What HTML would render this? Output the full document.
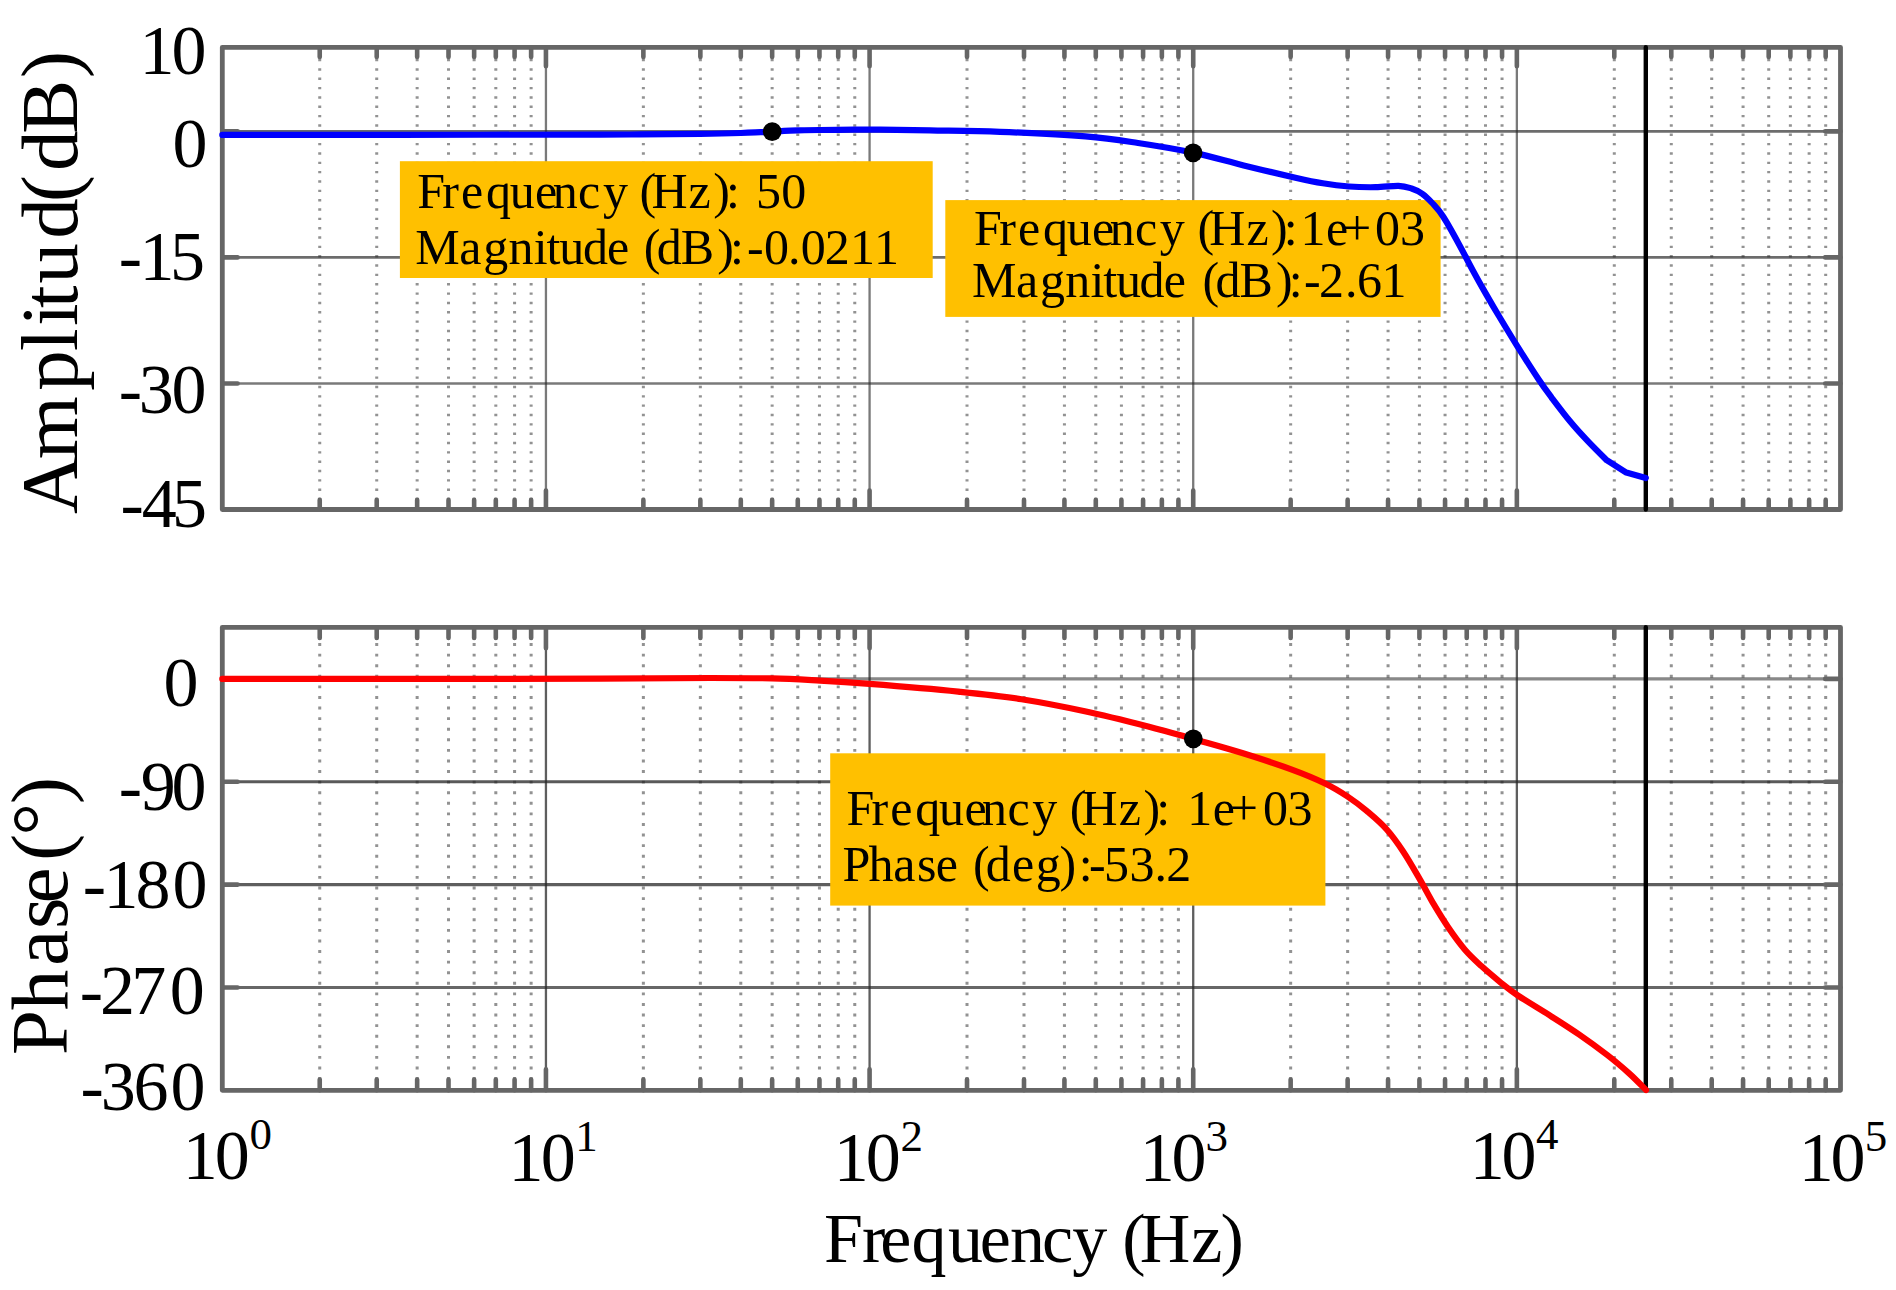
<!DOCTYPE html><html><head><meta charset="utf-8"><title>Bode plot</title><style>html,body{margin:0;padding:0;background:#fff}svg{display:block}text{font-family:"Liberation Serif",serif;fill:#000;font-kerning:none;white-space:pre}</style></head><body>
<svg xmlns="http://www.w3.org/2000/svg" width="<function W at 0x7fedd0887060>" height="1290" viewBox="0 0 <function W at 0x7fedd0887060> 1290">
<rect width="<function W at 0x7fedd0887060>" height="1290" fill="#fff"/>
<path d="M319.73 49.55V509.5M376.72 49.55V509.5M417.15 49.55V509.5M448.51 49.55V509.5M474.14 49.55V509.5M495.81 49.55V509.5M514.58 49.55V509.5M531.13 49.55V509.5M643.37 49.55V509.5M700.36 49.55V509.5M740.79 49.55V509.5M772.15 49.55V509.5M797.78 49.55V509.5M819.45 49.55V509.5M838.22 49.55V509.5M854.77 49.55V509.5M967.01 49.55V509.5M1024.00 49.55V509.5M1064.43 49.55V509.5M1095.79 49.55V509.5M1121.42 49.55V509.5M1143.09 49.55V509.5M1161.86 49.55V509.5M1178.41 49.55V509.5M1290.65 49.55V509.5M1347.64 49.55V509.5M1388.07 49.55V509.5M1419.43 49.55V509.5M1445.06 49.55V509.5M1466.73 49.55V509.5M1485.50 49.55V509.5M1502.05 49.55V509.5M1614.29 49.55V509.5M1671.28 49.55V509.5M1711.71 49.55V509.5M1743.07 49.55V509.5M1768.70 49.55V509.5M1790.37 49.55V509.5M1809.14 49.55V509.5M1825.69 49.55V509.5" stroke="rgba(38,38,38,0.50)" stroke-width="3" stroke-dasharray="2.4 6.940" fill="none"/>
<path d="M545.94 47.3V509.5M869.58 47.3V509.5M1193.22 47.3V509.5M1516.86 47.3V509.5" stroke="rgba(38,38,38,0.62)" stroke-width="2.3" fill="none"/>
<path d="M222.3 131.34H1840.5" stroke="rgba(38,38,38,0.68)" stroke-width="2.6" fill="none"/>
<path d="M222.3 257.39H1840.5" stroke="rgba(38,38,38,0.68)" stroke-width="2.6" fill="none"/>
<path d="M222.3 383.45H1840.5" stroke="rgba(38,38,38,0.62)" stroke-width="2.6" fill="none"/>
<path d="M319.73 47.3v9.6M319.73 509.5v-9.6M376.72 47.3v9.6M376.72 509.5v-9.6M417.15 47.3v9.6M417.15 509.5v-9.6M448.51 47.3v9.6M448.51 509.5v-9.6M474.14 47.3v9.6M474.14 509.5v-9.6M495.81 47.3v9.6M495.81 509.5v-9.6M514.58 47.3v9.6M514.58 509.5v-9.6M531.13 47.3v9.6M531.13 509.5v-9.6M643.37 47.3v9.6M643.37 509.5v-9.6M700.36 47.3v9.6M700.36 509.5v-9.6M740.79 47.3v9.6M740.79 509.5v-9.6M772.15 47.3v9.6M772.15 509.5v-9.6M797.78 47.3v9.6M797.78 509.5v-9.6M819.45 47.3v9.6M819.45 509.5v-9.6M838.22 47.3v9.6M838.22 509.5v-9.6M854.77 47.3v9.6M854.77 509.5v-9.6M967.01 47.3v9.6M967.01 509.5v-9.6M1024.00 47.3v9.6M1024.00 509.5v-9.6M1064.43 47.3v9.6M1064.43 509.5v-9.6M1095.79 47.3v9.6M1095.79 509.5v-9.6M1121.42 47.3v9.6M1121.42 509.5v-9.6M1143.09 47.3v9.6M1143.09 509.5v-9.6M1161.86 47.3v9.6M1161.86 509.5v-9.6M1178.41 47.3v9.6M1178.41 509.5v-9.6M1290.65 47.3v9.6M1290.65 509.5v-9.6M1347.64 47.3v9.6M1347.64 509.5v-9.6M1388.07 47.3v9.6M1388.07 509.5v-9.6M1419.43 47.3v9.6M1419.43 509.5v-9.6M1445.06 47.3v9.6M1445.06 509.5v-9.6M1466.73 47.3v9.6M1466.73 509.5v-9.6M1485.50 47.3v9.6M1485.50 509.5v-9.6M1502.05 47.3v9.6M1502.05 509.5v-9.6M1614.29 47.3v9.6M1614.29 509.5v-9.6M1671.28 47.3v9.6M1671.28 509.5v-9.6M1711.71 47.3v9.6M1711.71 509.5v-9.6M1743.07 47.3v9.6M1743.07 509.5v-9.6M1768.70 47.3v9.6M1768.70 509.5v-9.6M1790.37 47.3v9.6M1790.37 509.5v-9.6M1809.14 47.3v9.6M1809.14 509.5v-9.6M1825.69 47.3v9.6M1825.69 509.5v-9.6M545.94 47.3v18.9M545.94 509.5v-18.9M869.58 47.3v18.9M869.58 509.5v-18.9M1193.22 47.3v18.9M1193.22 509.5v-18.9M1516.86 47.3v18.9M1516.86 509.5v-18.9M222.3 131.34h15.3M1840.5 131.34h-15.3M222.3 257.39h15.3M1840.5 257.39h-15.3M222.3 383.45h15.3M1840.5 383.45h-15.3" stroke="#666666" stroke-width="4.6" stroke-linecap="round" fill="none"/>
<rect x="222.3" y="47.3" width="1618.2" height="462.2" fill="none" stroke="#666666" stroke-width="4.8" stroke-linejoin="round"/>
<path d="M319.73 632.47V1090.3M376.72 632.47V1090.3M417.15 632.47V1090.3M448.51 632.47V1090.3M474.14 632.47V1090.3M495.81 632.47V1090.3M514.58 632.47V1090.3M531.13 632.47V1090.3M643.37 632.47V1090.3M700.36 632.47V1090.3M740.79 632.47V1090.3M772.15 632.47V1090.3M797.78 632.47V1090.3M819.45 632.47V1090.3M838.22 632.47V1090.3M854.77 632.47V1090.3M967.01 632.47V1090.3M1024.00 632.47V1090.3M1064.43 632.47V1090.3M1095.79 632.47V1090.3M1121.42 632.47V1090.3M1143.09 632.47V1090.3M1161.86 632.47V1090.3M1178.41 632.47V1090.3M1290.65 632.47V1090.3M1347.64 632.47V1090.3M1388.07 632.47V1090.3M1419.43 632.47V1090.3M1445.06 632.47V1090.3M1466.73 632.47V1090.3M1485.50 632.47V1090.3M1502.05 632.47V1090.3M1614.29 632.47V1090.3M1671.28 632.47V1090.3M1711.71 632.47V1090.3M1743.07 632.47V1090.3M1768.70 632.47V1090.3M1790.37 632.47V1090.3M1809.14 632.47V1090.3M1825.69 632.47V1090.3" stroke="rgba(38,38,38,0.50)" stroke-width="3" stroke-dasharray="2.9 7.687" fill="none"/>
<path d="M545.94 627.3V1090.3M869.58 627.3V1090.3M1193.22 627.3V1090.3M1516.86 627.3V1090.3" stroke="rgba(38,38,38,0.74)" stroke-width="2.3" fill="none"/>
<path d="M222.3 678.90H1840.5" stroke="rgba(38,38,38,0.55)" stroke-width="3.1" fill="none"/>
<path d="M222.3 781.75H1840.5" stroke="rgba(38,38,38,0.76)" stroke-width="3.1" fill="none"/>
<path d="M222.3 884.60H1840.5" stroke="rgba(38,38,38,0.74)" stroke-width="3.1" fill="none"/>
<path d="M222.3 987.45H1840.5" stroke="rgba(38,38,38,0.7)" stroke-width="3.1" fill="none"/>
<path d="M319.73 627.3v10.7M319.73 1090.3v-10.7M376.72 627.3v10.7M376.72 1090.3v-10.7M417.15 627.3v10.7M417.15 1090.3v-10.7M448.51 627.3v10.7M448.51 1090.3v-10.7M474.14 627.3v10.7M474.14 1090.3v-10.7M495.81 627.3v10.7M495.81 1090.3v-10.7M514.58 627.3v10.7M514.58 1090.3v-10.7M531.13 627.3v10.7M531.13 1090.3v-10.7M643.37 627.3v10.7M643.37 1090.3v-10.7M700.36 627.3v10.7M700.36 1090.3v-10.7M740.79 627.3v10.7M740.79 1090.3v-10.7M772.15 627.3v10.7M772.15 1090.3v-10.7M797.78 627.3v10.7M797.78 1090.3v-10.7M819.45 627.3v10.7M819.45 1090.3v-10.7M838.22 627.3v10.7M838.22 1090.3v-10.7M854.77 627.3v10.7M854.77 1090.3v-10.7M967.01 627.3v10.7M967.01 1090.3v-10.7M1024.00 627.3v10.7M1024.00 1090.3v-10.7M1064.43 627.3v10.7M1064.43 1090.3v-10.7M1095.79 627.3v10.7M1095.79 1090.3v-10.7M1121.42 627.3v10.7M1121.42 1090.3v-10.7M1143.09 627.3v10.7M1143.09 1090.3v-10.7M1161.86 627.3v10.7M1161.86 1090.3v-10.7M1178.41 627.3v10.7M1178.41 1090.3v-10.7M1290.65 627.3v10.7M1290.65 1090.3v-10.7M1347.64 627.3v10.7M1347.64 1090.3v-10.7M1388.07 627.3v10.7M1388.07 1090.3v-10.7M1419.43 627.3v10.7M1419.43 1090.3v-10.7M1445.06 627.3v10.7M1445.06 1090.3v-10.7M1466.73 627.3v10.7M1466.73 1090.3v-10.7M1485.50 627.3v10.7M1485.50 1090.3v-10.7M1502.05 627.3v10.7M1502.05 1090.3v-10.7M1614.29 627.3v10.7M1614.29 1090.3v-10.7M1671.28 627.3v10.7M1671.28 1090.3v-10.7M1711.71 627.3v10.7M1711.71 1090.3v-10.7M1743.07 627.3v10.7M1743.07 1090.3v-10.7M1768.70 627.3v10.7M1768.70 1090.3v-10.7M1790.37 627.3v10.7M1790.37 1090.3v-10.7M1809.14 627.3v10.7M1809.14 1090.3v-10.7M1825.69 627.3v10.7M1825.69 1090.3v-10.7M545.94 627.3v21M545.94 1090.3v-21M869.58 627.3v21M869.58 1090.3v-21M1193.22 627.3v21M1193.22 1090.3v-21M1516.86 627.3v21M1516.86 1090.3v-21M222.3 678.90h15.3M1840.5 678.90h-15.3M222.3 781.75h15.3M1840.5 781.75h-15.3M222.3 884.60h15.3M1840.5 884.60h-15.3M222.3 987.45h15.3M1840.5 987.45h-15.3" stroke="#666666" stroke-width="4.6" stroke-linecap="round" fill="none"/>
<rect x="222.3" y="627.3" width="1618.2" height="463.0" fill="none" stroke="#666666" stroke-width="4.8" stroke-linejoin="round"/>
<path d="M1645.8 47.3V509.5M1645.8 627.3V1090.3" stroke="#000" stroke-width="4.4" stroke-linecap="round" fill="none"/>
<rect x="399.9" y="161.2" width="532.8" height="116.8" fill="#FFC000"/>
<rect x="945.3" y="200.1" width="495.3" height="116.8" fill="#FFC000"/>
<rect x="830.2" y="753.3" width="495.2" height="152.3" fill="#FFC000"/>
<path d="M222.3 134.9C251.9 134.9 337.1 134.9 400.0 134.8C462.9 134.8 560.0 134.7 600.0 134.6C640.0 134.5 623.3 134.5 640.0 134.4C656.7 134.3 683.2 134.0 700.0 133.8C716.8 133.6 730.7 133.3 740.8 133.0C750.9 132.7 755.5 132.4 760.7 132.2C765.9 132.0 768.1 131.8 772.0 131.6C775.9 131.4 779.7 131.0 784.0 130.8C788.3 130.6 791.8 130.5 797.7 130.4C803.7 130.3 810.3 130.1 819.7 130.0C829.1 129.9 844.0 129.8 854.0 129.7C864.0 129.6 867.3 129.6 880.0 129.7C892.7 129.8 910.0 130.0 930.0 130.3C950.0 130.7 974.1 130.8 1000.0 131.8C1025.9 132.8 1062.5 134.5 1085.5 136.4C1108.5 138.3 1120.1 140.3 1138.0 143.0C1155.9 145.7 1175.4 148.9 1193.0 152.6C1210.6 156.3 1226.5 161.2 1243.7 165.4C1261.0 169.6 1283.3 175.0 1296.5 178.0C1309.7 181.0 1314.0 181.9 1322.8 183.3C1331.6 184.7 1340.4 185.8 1349.2 186.5C1358.0 187.2 1367.4 187.3 1375.6 187.2C1383.8 187.1 1392.5 185.6 1398.5 185.8C1404.5 186.0 1407.6 187.2 1411.6 188.5C1415.5 189.8 1418.7 191.2 1422.2 193.7C1425.7 196.2 1429.2 199.7 1432.7 203.5C1436.2 207.3 1438.9 209.9 1443.3 216.7C1447.7 223.5 1454.3 235.6 1459.1 244.4C1463.9 253.2 1467.9 261.3 1472.3 269.4C1476.7 277.5 1481.1 285.4 1485.5 293.1C1489.9 300.8 1493.3 306.7 1498.6 315.5C1503.9 324.3 1510.5 335.3 1517.1 345.9C1523.7 356.4 1532.5 370.2 1538.2 378.8C1543.9 387.4 1546.1 390.3 1551.4 397.3C1556.7 404.3 1563.7 413.6 1569.8 421.0C1575.9 428.4 1582.1 435.1 1588.3 441.6C1594.5 448.1 1603.6 457.1 1606.7 460.2L1626.3 472.6L1645.8 478.0" stroke="#0000FF" stroke-width="6.2" stroke-linecap="round" stroke-linejoin="round" fill="none"/>
<path d="M222.3 678.9C251.9 678.9 337.1 678.9 400.0 678.9C462.9 678.9 548.2 678.9 600.0 678.7C651.8 678.6 682.3 678.0 711.0 678.0C739.7 678.0 753.8 678.0 772.0 678.4C790.2 678.8 803.7 679.7 820.0 680.6C836.3 681.5 846.6 682.1 869.6 683.9C892.6 685.7 932.9 689.0 958.2 691.6C983.5 694.2 1000.4 695.9 1021.5 699.2C1042.6 702.5 1063.7 706.7 1084.8 711.2C1105.9 715.7 1130.0 721.8 1148.1 726.4C1166.2 731.0 1177.6 734.5 1193.4 739.0C1209.2 743.5 1226.8 748.3 1243.0 753.3C1259.2 758.3 1276.8 764.1 1290.5 769.1C1304.2 774.1 1315.6 778.9 1325.1 783.5C1334.6 788.1 1340.5 791.9 1347.5 796.5C1354.5 801.1 1360.5 805.7 1367.0 811.2C1373.5 816.7 1380.5 822.5 1386.5 829.3C1392.5 836.0 1397.7 843.3 1403.3 851.7C1408.9 860.1 1414.9 870.8 1420.0 879.6C1425.1 888.4 1429.3 896.8 1434.0 904.7C1438.7 912.6 1442.9 919.5 1448.0 927.0C1453.1 934.5 1459.1 942.9 1464.7 949.4C1470.3 955.9 1475.4 960.5 1481.4 966.1C1487.5 971.7 1495.0 977.9 1501.0 982.8C1507.0 987.7 1509.3 989.8 1517.7 995.4C1526.1 1001.0 1541.0 1009.8 1551.2 1016.3C1561.4 1022.8 1569.8 1028.1 1579.1 1034.5C1588.4 1040.9 1598.7 1048.4 1607.1 1054.9C1615.5 1061.4 1622.9 1067.8 1629.4 1073.6C1635.9 1079.4 1643.2 1087.3 1646.0 1090.0" stroke="#FF0000" stroke-width="6.2" stroke-linecap="round" stroke-linejoin="round" fill="none"/>
<circle cx="772.2" cy="131.6" r="9.4" fill="#000"/>
<circle cx="1193.1" cy="152.8" r="9.4" fill="#000"/>
<circle cx="1193.3" cy="738.8" r="9.4" fill="#000"/>
<text x="417.2 442.3 461.0 486.0 509.8 535.1 552.8 578.1 602.9 627.9 639.6 651.4 688.6 713.3 726.0 739.9 756.0 781.2" y="207.9" font-size="50">Frequency (Hz): 50</text>
<text x="415.3 459.2 483.3 508.6 533.8 546.5 559.3 582.9 607.0 629.2 643.7 656.8 680.7 717.3 730.0 747.0 764.0 787.9 800.8 824.7 849.9 874.1" y="263.9" font-size="50">Magnitude (dB):-0.0211</text>
<text x="974.1 999.2 1017.9 1042.9 1066.7 1092.0 1109.7 1135.0 1159.8 1184.8 1197.4 1209.2 1246.4 1271.1 1283.8 1300.4 1325.9 1342.9 1375.0 1399.9" y="245.3" font-size="50">Frequency (Hz):1e+03</text>
<text x="972.0 1015.9 1039.9 1065.3 1090.4 1103.2 1116.0 1139.5 1163.7 1185.9 1202.4 1215.5 1239.4 1276.0 1288.7 1304.0 1319.1 1344.9 1357.1 1381.6" y="296.9" font-size="50">Magnitude (dB):-2.61</text>
<text x="846.5 871.6 890.3 915.3 939.1 964.4 982.1 1007.4 1032.2 1057.2 1069.8 1081.6 1118.8 1143.5 1156.2 1170.1 1187.2 1212.7 1229.7 1262.9 1287.6" y="824.8" font-size="50">Frequency (Hz): 1e+03</text>
<text x="842.5 868.4 893.2 917.1 935.7 957.9 973.0 985.7 1011.9 1035.8 1059.4 1078.7 1089.0 1103.9 1129.6 1154.4 1166.3" y="880.8" font-size="50">Phase (deg):-53.2</text>
<text x="139.4 171.4" y="74.1" font-size="70">10</text>
<text x="172.4" y="167.1" font-size="70">0</text>
<text x="118.7 139.5 169.9" y="280.0" font-size="70">-15</text>
<text x="118.7 138.7 171.6" y="413.2" font-size="70">-30</text>
<text x="120.6 141.8 172.1" y="526.8" font-size="70">-45</text>
<text x="163.6" y="706.2" font-size="70">0</text>
<text x="118.7 140.7 171.6" y="810.2" font-size="70">-90</text>
<text x="82.7 103.6 135.5 172.5" y="907.9" font-size="70">-180</text>
<text x="79.7 100.1 131.2 169.7" y="1013.9" font-size="70">-270</text>
<text x="80.6 100.7 133.4 170.6" y="1110.1" font-size="70">-360</text>
<text x="182.7 214.7" y="1179.1" font-size="70">10<tspan x="249.6" y="1149.1" font-size="45">0</tspan></text>
<text x="508.6 540.7" y="1180.9" font-size="70">10<tspan x="575.2" y="1151.0" font-size="45">1</tspan></text>
<text x="833.8 865.7" y="1180.9" font-size="70">10<tspan x="900.5" y="1151.0" font-size="45">2</tspan></text>
<text x="1139.8 1171.5" y="1180.9" font-size="70">10<tspan x="1205.4" y="1151.3" font-size="45">3</tspan></text>
<text x="1469.8 1501.5" y="1179.1" font-size="70">10<tspan x="1536.0" y="1148.7" font-size="45">4</tspan></text>
<text x="1798.7 1830.6" y="1180.9" font-size="70">10<tspan x="1864.7" y="1151.3" font-size="45">5</tspan></text>
<text x="823.9 862.1 880.2 911.4 948.1 979.7 1010.1 1042.1 1072.3 1107.3 1122.2 1139.7 1191.3 1220.5" y="1261.8" font-size="70">Frequency (Hz)</text>
<text transform="translate(76.6 0) rotate(-90)" x="-514.0 -459.2 -390.8 -351.1 -326.1 -308.0 -283.4 -238.8 -201.9 -171.1 -133.7 -77.9" y="0" font-size="81">Amplitud(dB)</text>
<text transform="translate(67.4 0) rotate(-90)" x="-1054.9 -1010.3 -965.8 -929.1 -903.4 -860.8 -835.5 -804.0" y="0" font-size="81">Phase(°)</text>
</svg></body></html>
